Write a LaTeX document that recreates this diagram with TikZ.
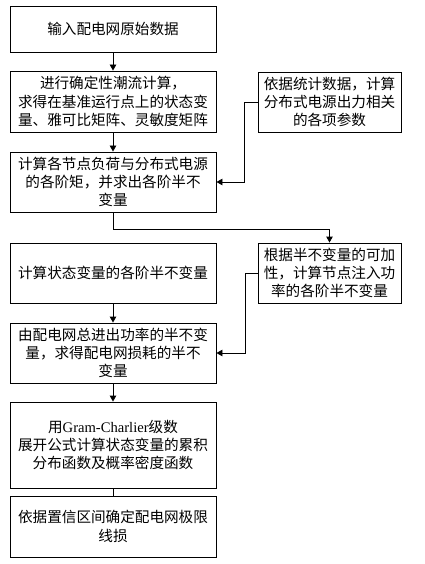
\documentclass[tikz,border=0pt]{standalone}
\usepackage{fontspec}
\setmainfont{Liberation Serif}
\newfontfamily\cjk{Noto Sans CJK SC}
\usetikzlibrary{arrows.meta,positioning}

\begin{document}
\begin{tikzpicture}[x=1pt,y=-1pt,
    flowbox/.style={draw,line width=0.9pt,align=center,inner sep=0pt,font=\cjk\fontsize{14.6}{18.3}\selectfont},
    leftbox/.style={flowbox,minimum width=206pt},
    rightbox/.style={flowbox,minimum width=143pt},
    flowarr/.style={line width=0.9pt,-{Triangle[length=6pt,width=6.5pt]}}]
  \useasboundingbox (0,0) rectangle (425,564);
  \node[leftbox,minimum height=46pt] (input) at (113,29) {输入配电网原始数据};
  \node[leftbox,minimum height=61pt] (flow) at (113,101.5) {进行确定性潮流计算，\\求得在基准运行点上的状态变\\量、雅可比矩阵、灵敏度矩阵};
  \node[leftbox,minimum height=60pt] (moments) at (113,182) {计算各节点负荷与分布式电源\\的各阶矩，并求出各阶半不\\变量};
  \node[rightbox,minimum height=60pt] (stats) at (329.5,102) {依据统计数据，计算\\分布式电源出力相关\\的各项参数};
  \node[rightbox,minimum height=60pt] (additive) at (329.5,273) {根据半不变量的可加\\性，计算节点注入功\\率的各阶半不变量};
  \node[leftbox,minimum height=60pt] (statevar) at (113,273) {计算状态变量的各阶半不变量};
  \node[leftbox,minimum height=60pt] (loss) at (113,353) {由配电网总进出功率的半不变\\量，求得配电网损耗的半不\\变量};
  \node[leftbox,minimum height=86pt] (gram) at (113,445) {用{\rmfamily Gram-Charlier}级数\\展开公式计算状态变量的累积\\分布函数及概率密度函数};
  \node[leftbox,minimum height=61pt] (limit) at (113,526.5) {依据置信区间确定配电网极限\\线损};

  \draw[flowarr] (input) -- (flow);
  \draw[flowarr] (flow) -- (moments);
  \draw[flowarr] (stats.west) -- ++(-13,0) |- (moments.east);
  \draw[flowarr] (moments.south) -- ++(0,17) -| (additive.north);
  \draw[flowarr] (additive.west) -- ++(-12,0) |- (loss.east);
  \draw[flowarr] (statevar) -- (loss);
  \draw[flowarr] (loss) -- (gram);
  \draw[line width=0.9pt] (gram) -- (limit);
\end{tikzpicture}
\end{document}
